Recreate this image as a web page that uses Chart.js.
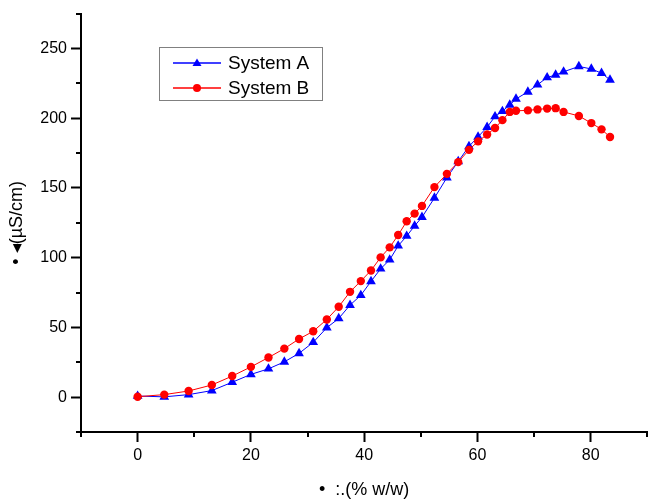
<!DOCTYPE html>
<html>
<head>
<meta charset="utf-8">
<script src="https://cdn.jsdelivr.net/npm/chart.js@4/dist/chart.umd.min.js"></script>
<style>
    html, body { margin: 0; padding: 0; background: #fff; }
    #wrap { width: 653px; height: 499px; }
</style>
</head>
<body>
<div id="wrap"><canvas id="grafico" width="653" height="499"></canvas></div>
<script>
// concentración (% w/w) común a ambas series
const concentracion = [0, 4.7, 9.0, 13.1, 16.7, 20.0, 23.1, 25.9, 28.5, 31.0,
    33.4, 35.5, 37.5, 39.4, 41.2, 42.9, 44.5, 46.0, 47.5, 48.9,
    50.2, 52.4, 54.6, 56.6, 58.5, 60.1, 61.7, 63.1, 64.4, 65.7,
    66.8, 68.9, 70.6, 72.3, 73.8, 75.2, 77.9, 80.1, 81.9, 83.4];

const sistemaA = [0.8, 0.2, 1.8, 4.7, 10.7, 16.3, 20.3, 25.3, 31.4, 39.3,
    49.8, 56.4, 66.0, 73.0, 83.0, 92.0, 98.5, 108.5, 115.5, 122.8,
    129.0, 142.8, 157.4, 169.0, 179.8, 186.6, 193.6, 201.2, 205.0, 209.5,
    213.8, 218.9, 224.0, 229.2, 231.0, 233.3, 237.1, 235.3, 232.3, 227.5];

const sistemaB = [0.3, 1.8, 4.4, 8.7, 15.1, 21.7, 28.4, 34.8, 41.7, 47.2,
    55.7, 64.8, 75.5, 83.2, 90.8, 100.2, 107.4, 116.2, 126.1, 131.6,
    137.1, 150.6, 160.1, 168.5, 177.3, 183.4, 188.3, 193.0, 198.6, 204.5,
    205.3, 205.6, 206.3, 206.9, 207.2, 204.5, 201.6, 196.5, 192.0, 186.5];

const etiquetasSeries = ['System A', 'System B'];
const tituloX = '\u2022  :.(% w/w)';
const tituloY = '\u2022 \u25C2(\u00B5S/cm)';

const FUENTE = "'Liberation Sans', Arial, sans-serif";
const AZUL = '#0000ff';
const ROJO = '#ff0000';

function puntos(valores) {
    return concentracion.map((c, i) => ({ x: c, y: valores[i] }));
}

// marcas menores (cortas) entre las mayores
const marcasMenores = {
    id: 'marcasMenores',
    afterDraw(chart) {
        const { ctx, scales: { x, y } } = chart;
        ctx.save();
        ctx.strokeStyle = '#000';
        ctx.lineWidth = 2;
        x.ticks.forEach(t => {
            if (t.value % 20 === 0) return;
            const px = Math.round(x.getPixelForValue(t.value));
            ctx.beginPath();
            ctx.moveTo(px, x.top);
            ctx.lineTo(px, x.top + 5);
            ctx.stroke();
        });
        y.ticks.forEach(t => {
            if (t.value % 50 === 0) return;
            const py = Math.round(y.getPixelForValue(t.value));
            ctx.beginPath();
            ctx.moveTo(y.right, py);
            ctx.lineTo(y.right - 5, py);
            ctx.stroke();
        });
        ctx.restore();
    }
};

// leyenda dentro del área, como en el original
const leyendaCaja = {
    id: 'leyendaCaja',
    afterDraw(chart) {
        const ctx = chart.ctx;
        const x0 = 159, y0 = 47, ancho = 163, alto = 53;
        ctx.save();
        ctx.fillStyle = '#fff';
        ctx.fillRect(x0, y0, ancho, alto);
        ctx.strokeStyle = '#808080';
        ctx.lineWidth = 1;
        ctx.strokeRect(x0 + 0.5, y0 + 0.5, ancho, alto);
        ctx.font = '19px ' + FUENTE;
        ctx.textBaseline = 'middle';
        chart.data.datasets.forEach((ds, i) => {
            const fila = y0 + 16 + i * 25;
            ctx.strokeStyle = ds.borderColor;
            ctx.fillStyle = ds.borderColor;
            ctx.lineWidth = 1.5;
            ctx.beginPath();
            ctx.moveTo(x0 + 14, fila);
            ctx.lineTo(x0 + 62, fila);
            ctx.stroke();
            const cx = x0 + 38;
            ctx.beginPath();
            if (ds.pointStyle === 'triangle') {
                ctx.moveTo(cx, fila - 4.5);
                ctx.lineTo(cx + 4.5, fila + 3);
                ctx.lineTo(cx - 4.5, fila + 3);
                ctx.closePath();
            } else {
                ctx.arc(cx, fila, 4, 0, Math.PI * 2);
            }
            ctx.fill();
            ctx.fillStyle = '#000';
            ctx.fillText(ds.label, x0 + 69, fila + 1);
        });
        ctx.restore();
    }
};

new Chart(document.getElementById('grafico'), {
    type: 'line',
    data: {
        datasets: [
            {
                label: etiquetasSeries[0],
                data: puntos(sistemaA),
                borderColor: AZUL,
                backgroundColor: AZUL,
                borderWidth: 1,
                pointStyle: 'triangle',
                pointRadius: 5.6,
                pointBorderWidth: 0,
                tension: 0,
                order: 2
            },
            {
                label: etiquetasSeries[1],
                data: puntos(sistemaB),
                borderColor: ROJO,
                backgroundColor: ROJO,
                borderWidth: 1,
                pointStyle: 'circle',
                pointRadius: 4.2,
                pointBorderWidth: 0,
                tension: 0,
                order: 1
            }
        ]
    },
    options: {
        responsive: false,
        animation: false,
        devicePixelRatio: 1,
        layout: { padding: { top: 13, right: 1, left: 0, bottom: 0 } },
        plugins: {
            legend: { display: false },
            tooltip: { enabled: false }
        },
        scales: {
            x: {
                type: 'linear',
                min: -10,
                max: 90,
                afterFit(scale) { scale.height = 67; },
                border: { display: true, color: '#000', width: 2 },
                grid: {
                    drawOnChartArea: false,
                    drawTicks: true,
                    tickLength: 10,
                    tickWidth: 2,
                    tickColor: ctx => (ctx.tick && ctx.tick.value % 20 === 0) ? '#000' : 'rgba(0,0,0,0)'
                },
                ticks: {
                    stepSize: 10,
                    color: '#000',
                    padding: 4,
                    maxRotation: 0,
                    font: { family: FUENTE, size: 16 },
                    callback: v => (v % 20 === 0 ? v : '')
                },
                title: {
                    display: true,
                    text: tituloX,
                    color: '#000',
                    font: { family: FUENTE, size: 18, lineHeight: 1 },
                    padding: { top: -2, bottom: 0 }
                }
            },
            y: {
                type: 'linear',
                min: -25,
                max: 275,
                afterFit(scale) { scale.width = 81; },
                border: { display: true, color: '#000', width: 2 },
                grid: {
                    drawOnChartArea: false,
                    drawTicks: true,
                    tickLength: 10,
                    tickWidth: 2,
                    tickColor: ctx => (ctx.tick && ctx.tick.value % 50 === 0) ? '#000' : 'rgba(0,0,0,0)'
                },
                ticks: {
                    stepSize: 25,
                    color: '#000',
                    padding: 4,
                    font: { family: FUENTE, size: 16 },
                    callback: v => (v % 50 === 0 ? v : '')
                },
                title: {
                    display: true,
                    text: tituloY,
                    color: '#000',
                    font: { family: FUENTE, size: 18, lineHeight: 1 },
                    padding: { top: 8, bottom: 0 }
                }
            }
        }
    },
    plugins: [marcasMenores, leyendaCaja]
});
</script>
</body>
</html>
